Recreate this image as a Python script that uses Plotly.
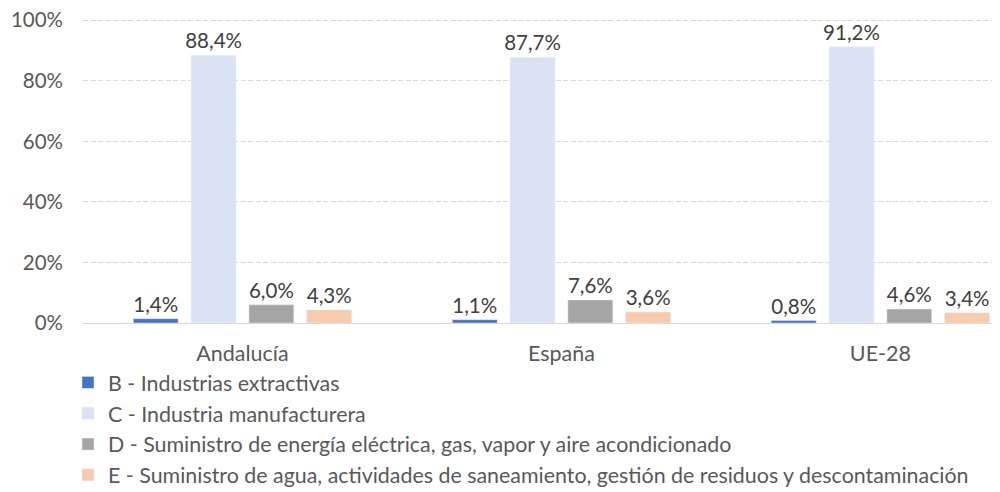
import plotly.graph_objects as go

categories = ["Andalucía", "España", "UE-28"]
series_names = [
    "B - Industrias extractivas",
    "C - Industria manufacturera",
    "D - Suministro de energía eléctrica, gas, vapor y aire acondicionado",
    "E - Suministro de agua, actividades de saneamiento, gestión de residuos y descontaminación",
]
values_B = [0.014, 0.011, 0.008]
values_C = [0.884, 0.877, 0.912]
values_D = [0.060, 0.076, 0.046]
values_E = [0.043, 0.036, 0.034]
colors = ["#4472C4", "#DAE3F3", "#A5A5A5", "#F8CBAD"]
y_ticks = [0, 0.2, 0.4, 0.6, 0.8, 1.0]

FONT = "Lato"
fig = go.Figure()
for name, vals, col in zip(series_names, [values_B, values_C, values_D, values_E], colors):
    fig.add_trace(go.Bar(
        x=categories, y=vals, name=name, marker_color=col,
        texttemplate="%{y:.1%}", textposition="outside",
        textfont=dict(family=FONT, size=20.5, color="#404040"),
        cliponaxis=False, constraintext="none",
    ))

# page body has an 8px margin, so the figure is 992x484 placed at (8, 8)
W, H = 992, 484
L, R, T, B = 75, 0, 11, 169
fig.update_layout(
    width=W, height=H,
    margin=dict(l=L, r=R, t=T, b=B, autoexpand=False),
    paper_bgcolor="white", plot_bgcolor="white",
    separators=",.",
    barmode="group", bargap=0.275, bargroupgap=0.224,
    font=dict(family=FONT, color="#595959", size=20),
    showlegend=True,
    legend=dict(
        orientation="v", xref="container", yref="container",
        x=0.0605, xanchor="left", y=0.2686, yanchor="top",
        font=dict(family=FONT, size=21.4, color="#595959"),
        traceorder="normal", itemwidth=30, bgcolor="rgba(0,0,0,0)",
    ),
    xaxis=dict(
        range=[-0.5, 2.375], showgrid=False, showline=True, linecolor="#D9D9D9",
        linewidth=1, ticks="", automargin=False, ticklabelstandoff=11,
        tickfont=dict(family=FONT, size=21.5, color="#595959"),
    ),
    yaxis=dict(
        range=[0, 1.004], tickvals=y_ticks, tickformat=".0%",
        showgrid=True, gridcolor="#D9D9D9", griddash="5px,2.5px", gridwidth=1,
        zeroline=False, showline=False, ticks="", automargin=False,
        ticklabelstandoff=19, ticklabeloverflow="allow",
        tickfont=dict(family=FONT, size=20.5, color="#595959"),
    ),
)
fig.write_html("out.html")
